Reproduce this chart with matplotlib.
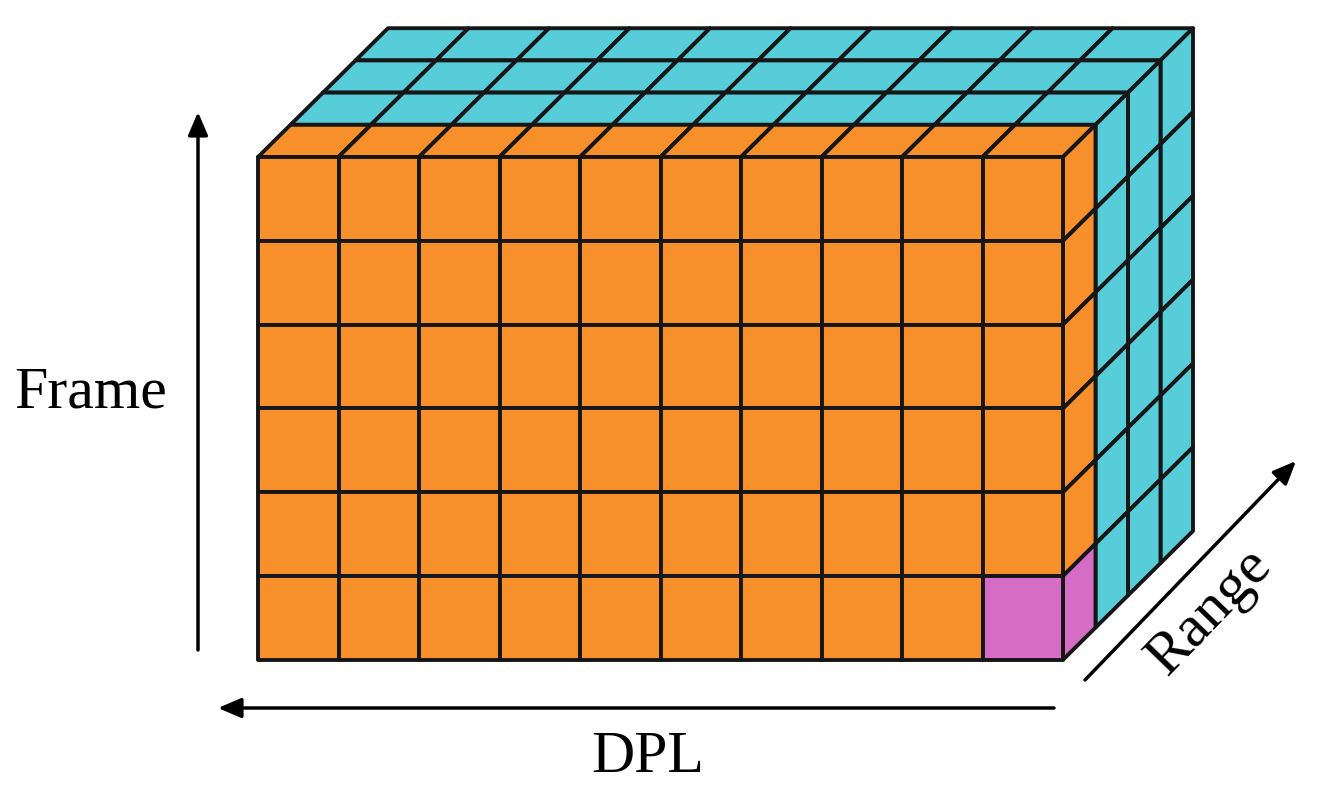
import matplotlib.pyplot as plt
from matplotlib.patches import Polygon

# grid of the cube
n_cols = 10      # DPL
n_rows = 6       # Frame
n_depth = 4      # Range
layer_colors = ['#F78F2A', '#56CDD9', '#56CDD9', '#56CDD9']
special_cell = (n_cols - 1, n_rows - 1, 0)   # col, row, depth -> pink
special_color = '#D56CC6'
axis_labels = ['Frame', 'DPL', 'Range']

# geometry in pixels (y downwards)
x0, y0 = 258, 157
cw, ch = 80.5, 83.8
ddx, ddy = 32.5, -32.2
edge = '#161616'
lw = 2.8

fig = plt.figure(figsize=(13.17, 8), dpi=100)
ax = fig.add_axes([0, 0, 1, 1])
ax.set_xlim(0, 1317)
ax.set_ylim(800, 0)
ax.axis('off')


def cell_color(c, r, d):
    if (c, r, d) == special_cell:
        return special_color
    return layer_colors[d]


def quad(pts, color):
    ax.add_patch(Polygon(pts, closed=True, facecolor=color, edgecolor=edge,
                         lw=lw, joinstyle='round'))


# top face, back layers first
for d in range(n_depth - 1, -1, -1):
    for c in range(n_cols):
        xa = x0 + c * cw + d * ddx
        ya = y0 + d * ddy
        quad([(xa, ya), (xa + cw, ya), (xa + cw + ddx, ya + ddy), (xa + ddx, ya + ddy)],
             cell_color(c, 0, d))

# right face
xr = x0 + n_cols * cw
for d in range(n_depth - 1, -1, -1):
    for r in range(n_rows):
        xa = xr + d * ddx
        ya = y0 + r * ch + d * ddy
        quad([(xa, ya), (xa + ddx, ya + ddy), (xa + ddx, ya + ddy + ch), (xa, ya + ch)],
             cell_color(n_cols - 1, r, d))

# front face
for r in range(n_rows):
    for c in range(n_cols):
        xa = x0 + c * cw
        ya = y0 + r * ch
        quad([(xa, ya), (xa + cw, ya), (xa + cw, ya + ch), (xa, ya + ch)],
             cell_color(c, r, 0))

# axis arrows
aprops = dict(arrowstyle='-|>,head_length=0.7,head_width=0.3', color='black',
              lw=2.5, mutation_scale=20, shrinkA=0, shrinkB=0)
ax.annotate('', xy=(198, 112), xytext=(198, 650), arrowprops=aprops)
ax.annotate('', xy=(218, 708), xytext=(1054, 708), arrowprops=aprops)
ax.annotate('', xy=(1296, 461), xytext=(1085, 680), arrowprops=aprops)

font = dict(family='Liberation Serif', fontsize=43, color='black')
ax.text(91, 393, axis_labels[0], ha='center', va='center', **font)
ax.text(648, 758, axis_labels[1], ha='center', va='center', **font)
ax.text(1210, 612, axis_labels[2], ha='center', va='center', rotation=46, **font)

fig.savefig('out.png', dpi=100)
